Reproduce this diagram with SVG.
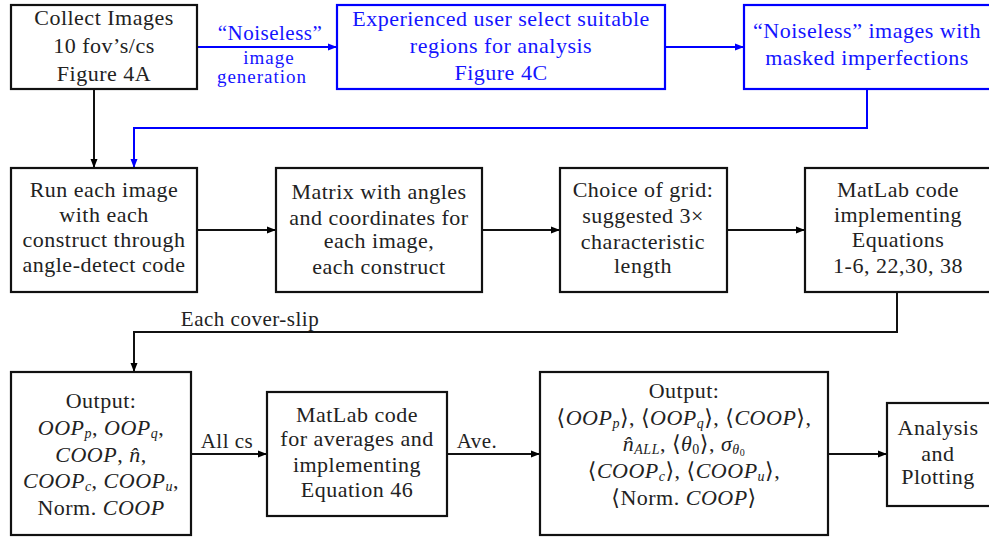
<svg xmlns="http://www.w3.org/2000/svg" width="989" height="537" viewBox="0 0 989 537" font-family="Liberation Serif, Times New Roman, DejaVu Serif, Noto Serif, serif">
<defs>
<marker id="ak" markerUnits="userSpaceOnUse" markerWidth="10" markerHeight="8" refX="9" refY="4" orient="auto"><path d="M0,0.5 L9,4 L0,7.5 z" fill="#000"/></marker>
<marker id="ab" markerUnits="userSpaceOnUse" markerWidth="10" markerHeight="8" refX="9" refY="4" orient="auto"><path d="M0,0.5 L9,4 L0,7.5 z" fill="#00f"/></marker>
<style>
text{font-family:'Liberation Serif','Times New Roman','DejaVu Serif',serif;font-size:22px;text-anchor:middle;letter-spacing:0.5px;fill:#222}
.b text,text.b{fill:#1414ff}
rect{fill:#fff;stroke:#111;stroke-width:2.2}
.b rect{stroke:#00f}
.ck path{fill:none;stroke:#111;stroke-width:2;marker-end:url(#ak)}
.cb path{fill:none;stroke:#00f;stroke-width:2;marker-end:url(#ab)}
.i{font-style:italic}
.s{font-size:14px;font-style:italic}
.l{font-size:21px}
.m{font-size:19px;letter-spacing:1px}
</style>
</defs>
<rect x="0" y="0" width="989" height="537" style="fill:#fff;stroke:none"/>
<g id="connectors">
<g class="cb">
<path d="M197,47 H337"/>
<path d="M665,47 H744"/>
<path d="M867,89 V128 H134 V168"/>
</g>
<g class="ck">
<path d="M94,89 V168"/>
<path d="M197,230 H276"/>
<path d="M482,230 H560"/>
<path d="M727,230 H805"/>
<path d="M897,292 V332 H134 V372"/>
<path d="M191,454 H267"/>
<path d="M447,454 H540"/>
<path d="M828,454 H887"/>
</g>
<text class="b l" x="270" y="40">“Noiseless”</text>
<text class="b m" x="269" y="64">image</text>
<text class="b m" x="262" y="83">generation</text>
<text class="l" x="250" y="326">Each cover-slip</text>
<text class="l" x="227" y="448">All cs</text>
<text class="l" x="477" y="448">Ave.</text>
</g>
<g id="collect">
<rect x="11" y="5" width="186" height="84"/>
<text x="104" y="25">Collect Images</text>
<text x="104" y="53">10 fov’s/cs</text>
<text x="104" y="81">Figure 4A</text>
</g>
<g id="select" class="b">
<rect x="337" y="5" width="328" height="84"/>
<text x="501" y="26">Experienced user select suitable</text>
<text x="501" y="53">regions for analysis</text>
<text x="501" y="80">Figure 4C</text>
</g>
<g id="masked" class="b">
<rect x="744" y="5" width="248" height="84"/>
<text x="867" y="38">“Noiseless” images with</text>
<text x="867" y="65">masked imperfections</text>
</g>
<g id="run">
<rect x="11" y="168" width="186" height="124"/>
<text x="104" y="197">Run each image</text>
<text x="104" y="222">with each</text>
<text x="104" y="247">construct through</text>
<text x="104" y="272">angle-detect code</text>
</g>
<g id="matrix">
<rect x="276" y="168" width="206" height="124"/>
<text x="379" y="199">Matrix with angles</text>
<text x="379" y="225">and coordinates for</text>
<text x="379" y="248">each image,</text>
<text x="379" y="274">each construct</text>
</g>
<g id="grid">
<rect x="560" y="168" width="167" height="124"/>
<text x="643" y="197">Choice of grid:</text>
<text x="643" y="223">suggested  3×</text>
<text x="643" y="249">characteristic</text>
<text x="643" y="273">length</text>
</g>
<g id="matlab1">
<rect x="805" y="168" width="187" height="124"/>
<text x="898" y="197">MatLab code</text>
<text x="898" y="222">implementing</text>
<text x="898" y="247">Equations</text>
<text x="898" y="273">1-6, 22,30, 38</text>
</g>
<g id="output1">
<rect x="11" y="372" width="180" height="163"/>
<text x="101" y="408">Output:</text>
<text x="101" y="435"><tspan class="i">OOP</tspan><tspan class="s" dy="3">p</tspan><tspan dy="-3">, </tspan><tspan class="i">OOP</tspan><tspan class="s" dy="3">q</tspan><tspan dy="-3">,</tspan></text>
<text x="101" y="462"><tspan class="i">COOP</tspan>, <tspan class="i">n̂</tspan>,</text>
<text x="101" y="488"><tspan class="i">COOP</tspan><tspan class="s" dy="3">c</tspan><tspan dy="-3">, </tspan><tspan class="i">COOP</tspan><tspan class="s" dy="3">u</tspan><tspan dy="-3">,</tspan></text>
<text x="101" y="515">Norm. <tspan class="i">COOP</tspan></text>
</g>
<g id="matlab2">
<rect x="267" y="392" width="180" height="124"/>
<text x="357" y="422">MatLab code</text>
<text x="357" y="446">for averages and</text>
<text x="357" y="472">implementing</text>
<text x="357" y="497">Equation 46</text>
</g>
<g id="output2">
<rect x="540" y="372" width="288" height="163"/>
<text x="684" y="398">Output:</text>
<text x="684" y="425">⟨<tspan class="i">OOP</tspan><tspan class="s" dy="3">p</tspan><tspan dy="-3">⟩, ⟨</tspan><tspan class="i">OOP</tspan><tspan class="s" dy="3">q</tspan><tspan dy="-3">⟩, ⟨</tspan><tspan class="i">COOP</tspan>⟩,</text>
<text x="684" y="451"><tspan class="i">n̂</tspan><tspan class="s" dy="3">ALL</tspan><tspan dy="-3">, ⟨</tspan><tspan class="i">θ</tspan><tspan font-size="14" dy="3">0</tspan><tspan dy="-3">⟩, </tspan><tspan class="i">σ</tspan><tspan class="s" dy="3">θ</tspan><tspan font-size="10" dy="2">0</tspan></text>
<text x="684" y="478">⟨<tspan class="i">COOP</tspan><tspan class="s" dy="3">c</tspan><tspan dy="-3">⟩, ⟨</tspan><tspan class="i">COOP</tspan><tspan class="s" dy="3">u</tspan><tspan dy="-3">⟩,</tspan></text>
<text x="684" y="505">⟨Norm. <tspan class="i">COOP</tspan>⟩</text>
</g>
<g id="analysis">
<rect x="887" y="403" width="105" height="103"/>
<text x="938" y="435">Analysis</text>
<text x="938" y="461">and</text>
<text x="938" y="484">Plotting</text>
</g>
</svg>
